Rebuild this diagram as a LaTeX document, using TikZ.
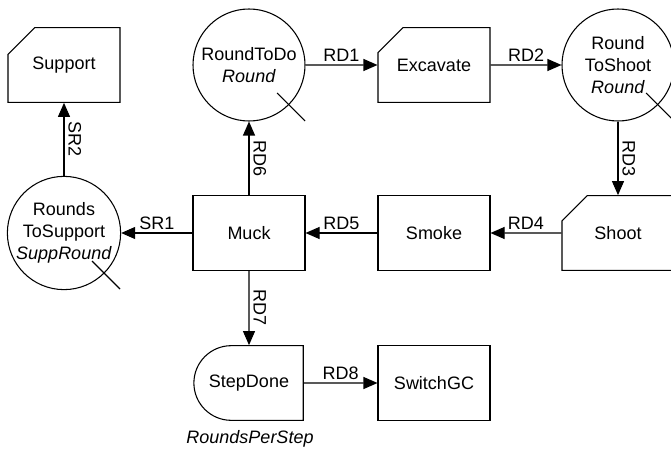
\documentclass[tikz,border=0pt]{standalone}
\usepackage{fontspec}
\setmainfont{Liberation Sans}
\usetikzlibrary{shapes.misc,arrows.meta}
\tikzset{
	defaultstyle/.style={
		>={Triangle[length=10.5pt,width=9pt]},
		line width=0.8pt,
		font=\fontsize{13.5}{16.5}\selectfont,
		x=0.75pt,
		y=-0.75pt}}

\begin{document}
\begin{tikzpicture}[defaultstyle,
	every text node part/.style={align=center},
	task/.style={draw, rectangle, minimum width=84pt, minimum height=56pt, inner sep=0pt},
	cuttask/.style={draw, chamfered rectangle, chamfered rectangle corners=north west,
		chamfered rectangle xsep=14pt, chamfered rectangle ysep=14pt,
		minimum width=84pt, minimum height=56pt, inner sep=0pt},
	store/.style={draw, circle, minimum size=84pt, inner sep=0pt},
	gate/.style={draw, rounded rectangle, rounded rectangle right arc=none,
		minimum width=82pt, minimum height=56pt, inner sep=0pt},
	hlabel/.style={midway, above, inner sep=2pt},
	vlabel/.style={midway, rotate=-90, anchor=south, inner sep=3pt},
	]
	
	\path[use as bounding box, clip] (0,0) rectangle (671,449);
	
	\node[cuttask] (support) at (64,65) {Support};
	\node[store] (rtd) at (249,65) {RoundToDo\\\textit{Round}};
	\node[cuttask] (excavate) at (434,65) {Excavate};
	\node[store] (rtsh) at (618,65) {Round\\ToShoot\\\textit{Round}};
	
	\node[store] (rts) at (64,233) {Rounds\\ToSupport\\\textit{SuppRound}};
	\node[task] (muck) at (249,233) {Muck};
	\node[task] (smoke) at (434,233) {Smoke};
	\node[cuttask] (shoot) at (618,233) {Shoot};
	
	\node[gate] (stepdone) at (249,383) {StepDone};
	\node[task] (switchgc) at (434,383) {SwitchGC};
	\node (rps) at (250,439) {\textit{RoundsPerStep}};
	
	\foreach \s in {rtd, rtsh, rts}
		\draw ([shift={(28,28)}]\s.center) -- ++(28,28);
	
	\draw[->] (rtd) -- node[hlabel] {RD1} (excavate);
	\draw[->] (excavate) -- node[hlabel] {RD2} (rtsh);
	\draw[->] (rtsh) -- node[vlabel] {RD3} (shoot);
	\draw[->] (shoot) -- node[hlabel] {RD4} (smoke);
	\draw[->] (smoke) -- node[hlabel] {RD5} (muck);
	\draw[->] (muck) -- node[vlabel] {RD6} (rtd);
	\draw[->] (muck) -- node[vlabel] {RD7} (stepdone);
	\draw[->] (stepdone) -- node[hlabel] {RD8} (switchgc);
	\draw[->] (muck) -- node[hlabel] {SR1} (rts);
	\draw[->] (rts) -- node[vlabel] {SR2} (support);
	
\end{tikzpicture}
\end{document}
